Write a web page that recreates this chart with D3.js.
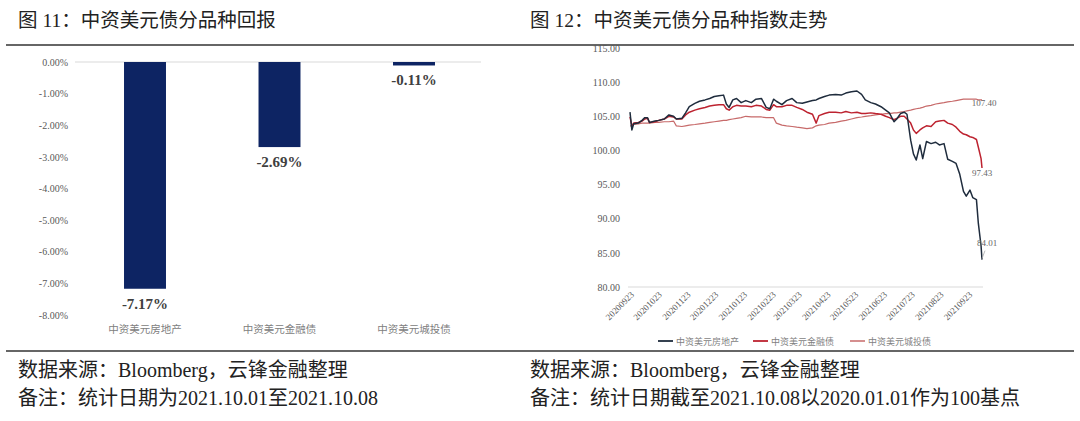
<!DOCTYPE html>
<html><head><meta charset="utf-8">
<script src="https://cdn.jsdelivr.net/npm/d3@7"></script>
<style>
body{margin:0;background:#fff;}
svg{display:block;}
</style></head><body>
<svg id="c" width="1080" height="421"></svg>
<script>
// ---------- data ----------
const returnCategories = ["中资美元房地产", "中资美元金融债", "中资美元城投债"];
const returnValues = [-7.17, -2.69, -0.11];
const returnTicks = [0, -1, -2, -3, -4, -5, -6, -7, -8];

const indexDates = [
"2020-09-23","2020-09-25","2020-09-27","2020-10-02","2020-10-06","2020-10-09","2020-10-12","2020-10-14","2020-10-20","2020-10-24",
"2020-10-30","2020-11-04","2020-11-09","2020-11-12","2020-11-18","2020-11-22","2020-11-26","2020-12-02","2020-12-07","2020-12-13",
"2020-12-18","2020-12-23","2020-12-28","2021-01-02","2021-01-05","2021-01-08","2021-01-12","2021-01-16","2021-01-21","2021-01-26",
"2021-02-01","2021-02-06","2021-02-12","2021-02-17","2021-02-21","2021-02-25","2021-02-28","2021-03-06","2021-03-11","2021-03-17",
"2021-03-22","2021-03-28","2021-04-02","2021-04-08","2021-04-12","2021-04-15","2021-04-21","2021-04-26","2021-05-03","2021-05-09",
"2021-05-14","2021-05-20","2021-05-26","2021-05-31","2021-06-04","2021-06-10","2021-06-15","2021-06-21","2021-06-26","2021-06-30",
"2021-07-05","2021-07-08","2021-07-12","2021-07-16","2021-07-19","2021-07-23","2021-07-26","2021-07-29","2021-08-02","2021-08-05",
"2021-08-09","2021-08-14","2021-08-19","2021-08-23","2021-08-28","2021-09-01","2021-09-06","2021-09-10","2021-09-14","2021-09-18",
"2021-09-21","2021-09-25","2021-09-28","2021-10-02","2021-10-04","2021-10-07","2021-10-08"];

const realEstate = [
105.6,103.0,103.9,104.0,104.4,104.8,104.8,104.1,104.3,104.4,
104.6,105.2,105.0,104.6,104.7,105.5,106.4,106.9,107.2,107.4,
107.6,107.9,108.0,108.1,106.8,106.3,107.4,107.6,107.0,107.3,
107.0,107.5,107.6,106.3,106.1,107.5,107.2,106.7,107.3,107.6,
107.0,106.9,107.1,107.3,107.4,107.6,107.9,108.1,108.2,108.1,
108.4,108.6,108.7,108.2,107.4,107.0,106.8,106.4,105.9,105.5,
104.2,104.6,105.4,105.6,105.3,101.5,99.5,98.6,100.8,98.8,
101.3,101.0,101.2,100.8,101.0,98.7,98.4,98.1,96.5,94.0,
93.3,94.2,93.1,92.8,89.4,86.0,84.01];

const financial = [
104.9,103.6,104.0,104.1,104.3,104.6,104.7,104.1,104.2,104.4,
104.6,105.0,104.9,104.6,104.6,105.2,105.6,105.9,106.1,106.3,
106.5,106.6,106.7,106.7,106.1,105.9,106.4,106.6,106.5,106.5,
106.4,106.6,106.5,106.0,105.9,106.7,106.4,106.4,106.6,106.6,
106.3,106.0,105.6,105.3,104.0,105.1,105.4,105.6,105.6,105.5,
105.7,105.5,105.6,105.4,105.4,105.5,105.4,105.3,105.0,104.8,
104.5,104.7,105.0,105.0,104.6,104.0,103.0,102.5,103.0,103.3,
103.6,103.5,104.2,104.3,104.4,104.0,103.8,103.4,102.8,102.4,
102.3,102.0,101.9,101.6,100.5,98.8,97.43];

const lgfv = [
103.6,103.6,103.8,103.9,104.0,104.0,104.0,104.0,104.1,104.1,
104.2,104.2,104.3,103.6,103.5,103.6,103.7,103.8,103.9,104.0,
104.1,104.2,104.3,104.4,104.4,104.5,104.6,104.7,104.8,105.0,
104.9,104.9,104.9,104.8,104.8,104.8,104.0,103.7,103.6,103.5,
103.4,103.3,103.2,103.3,103.6,103.7,103.8,104.0,104.1,104.3,
104.4,104.6,104.8,104.9,105.0,105.1,105.2,105.3,105.4,105.4,
105.5,105.5,105.6,105.7,105.8,105.9,106.0,106.1,106.2,106.3,
106.5,106.6,106.8,106.9,107.0,107.1,107.2,107.3,107.4,107.5,
107.5,107.5,107.5,107.5,107.4,107.4,107.40];

const indexSeriesNames = ["中资美元房地产", "中资美元金融债", "中资美元城投债"];
const indexTicks = [80, 85, 90, 95, 100, 105, 110, 115];
const dateTicks = ["2020-09-23","2020-10-23","2020-11-23","2020-12-23","2021-01-23","2021-02-23","2021-03-23",
                   "2021-04-23","2021-05-23","2021-06-23","2021-07-23","2021-08-23","2021-09-23"];

// ---------- drawing ----------
const svg = d3.select("#c");
const FONT = '"Liberation Serif","Noto Sans CJK SC",serif';
const CJK = '"Noto Sans CJK SC","Liberation Serif",sans-serif';
svg.append("rect").attr("width",1080).attr("height",421).attr("fill","#fff");

// titles & rules
svg.append("text").attr("x",18).attr("y",27).attr("font-family",FONT).attr("font-size",19.5).attr("fill","#222")
  .text("图 11：中资美元债分品种回报");
svg.append("text").attr("x",530).attr("y",27).attr("font-family",FONT).attr("font-size",19.5).attr("fill","#222")
  .text("图 12：中资美元债分品种指数走势");
svg.append("line").attr("x1",6).attr("x2",1074).attr("y1",45).attr("y2",45).attr("stroke","#333").attr("stroke-width",1.6);
svg.append("line").attr("x1",6).attr("x2",1074).attr("y1",351).attr("y2",351).attr("stroke","#333").attr("stroke-width",1.6);

// footers
const foot = [[18,377,"数据来源：Bloomberg，云锋金融整理"],[18,405,"备注：统计日期为2021.10.01至2021.10.08"],
              [530,377,"数据来源：Bloomberg，云锋金融整理"],[530,405,"备注：统计日期截至2021.10.08以2020.01.01作为100基点"]];
foot.forEach(f => svg.append("text").attr("x",f[0]).attr("y",f[1]).attr("font-family",FONT).attr("font-size",20).attr("fill","#222").text(f[2]));

// ---------- left: bar chart ----------
const yL = d3.scaleLinear().domain([-8, 0]).range([315, 62]);
const xL = d3.scaleBand().domain(returnCategories).range([77.75, 481.25]).paddingInner(0.688).paddingOuter(0.344);

const gL = svg.append("g");
const axL = gL.append("g").attr("transform","translate(75,0)")
  .call(d3.axisLeft(yL).tickValues(returnTicks).tickSize(0).tickPadding(7).tickFormat(d => d.toFixed(2) + "%"));
axL.select(".domain").remove();
axL.selectAll("text").attr("font-family",FONT).attr("font-size",10).attr("fill","#595959");

gL.append("line").attr("x1",75).attr("x2",481).attr("y1",yL(0)).attr("y2",yL(0)).attr("stroke","#d9d9d9").attr("stroke-width",1);

gL.selectAll("rect.bar").data(returnValues).join("rect").attr("class","bar")
  .attr("x",(d,i) => xL(returnCategories[i])).attr("width",xL.bandwidth())
  .attr("y",yL(0)).attr("height",d => yL(d) - yL(0)).attr("fill","#0d2463");

gL.selectAll("text.val").data(returnValues).join("text").attr("class","val")
  .attr("x",(d,i) => xL(returnCategories[i]) + xL.bandwidth()/2).attr("y",d => yL(d) + 20)
  .attr("text-anchor","middle").attr("font-family",FONT).attr("font-weight","bold").attr("font-size",15).attr("fill","#404040")
  .text(d => d.toFixed(2) + "%");

gL.selectAll("text.cat").data(returnCategories).join("text").attr("class","cat")
  .attr("x",d => xL(d) + xL.bandwidth()/2).attr("y",333).attr("text-anchor","middle")
  .attr("font-family",CJK).attr("font-size",10.5).attr("fill","#808080").text(d => d);

// ---------- right: line chart ----------
const parse = d3.timeParse("%Y-%m-%d");
const dates = indexDates.map(parse);
const xR = d3.scaleTime().domain([dates[0], dates[dates.length-1]]).range([630, 982]);
const yR = d3.scaleLinear().domain([80, 115]).range([287, 48]);
const gR = svg.append("g");

const axY = gR.append("g").attr("transform","translate(628,0)")
  .call(d3.axisLeft(yR).tickValues(indexTicks).tickSize(0).tickPadding(8).tickFormat(d => d.toFixed(2)));
axY.select(".domain").remove();
axY.selectAll("text").attr("font-family",FONT).attr("font-size",10).attr("fill","#595959");

gR.append("line").attr("x1",628).attr("x2",983).attr("y1",yR(80)).attr("y2",yR(80)).attr("stroke","#d9d9d9");

const axX = gR.append("g").attr("transform",`translate(0,${yR(80)})`)
  .call(d3.axisBottom(xR).tickValues(dateTicks.map(parse)).tickSize(0).tickFormat(d3.timeFormat("%Y%m%d")));
axX.select(".domain").remove();
axX.selectAll("text").attr("font-family",FONT).attr("font-size",9).attr("fill","#595959")
  .attr("text-anchor","end").attr("x",0).attr("y",0).attr("dy","0.35em")
  .attr("transform","translate(2,6) rotate(-45)");

const seriesVals = [realEstate, financial, lgfv];
const colors = ["#1f2c3d", "#bd2330", "#c76a6a"];
const widths = [1.5, 1.5, 1.2];
const line = d3.line().x((d,i) => xR(dates[i])).y(d => yR(d));
[2,1,0].forEach(k => {
  gR.append("path").datum(seriesVals[k]).attr("d",line).attr("fill","none")
    .attr("stroke",colors[k]).attr("stroke-width",widths[k]).attr("stroke-linejoin","round");
});

// end labels
const last = dates[dates.length-1];
const lab = (v, dx, dy) => gR.append("text").attr("x",xR(last)+dx).attr("y",yR(v)+dy)
  .attr("text-anchor","middle").attr("font-family",FONT).attr("font-size",9).attr("fill","#666").text(v.toFixed(2));
lab(lgfv[lgfv.length-1], 2, 6);
lab(financial[financial.length-1], 0, 8);
lab(realEstate[realEstate.length-1], 5, -14);
gR.append("line").attr("x1",xR(last)+3).attr("y1",yR(realEstate[realEstate.length-1])-9)
  .attr("x2",xR(last)).attr("y2",yR(realEstate[realEstate.length-1])-1).attr("stroke","#aaa").attr("stroke-width",0.8);

// legend
const legX = [658, 753, 850];
indexSeriesNames.forEach((n,k) => {
  gR.append("line").attr("x1",legX[k]).attr("x2",legX[k]+15).attr("y1",341).attr("y2",341)
    .attr("stroke",colors[k]).attr("stroke-width",widths[k]+0.3);
  gR.append("text").attr("x",legX[k]+18).attr("y",344.5).attr("font-family",CJK).attr("font-size",9)
    .attr("fill","#7f7f7f").text(n);
});
</script>
</body></html>
